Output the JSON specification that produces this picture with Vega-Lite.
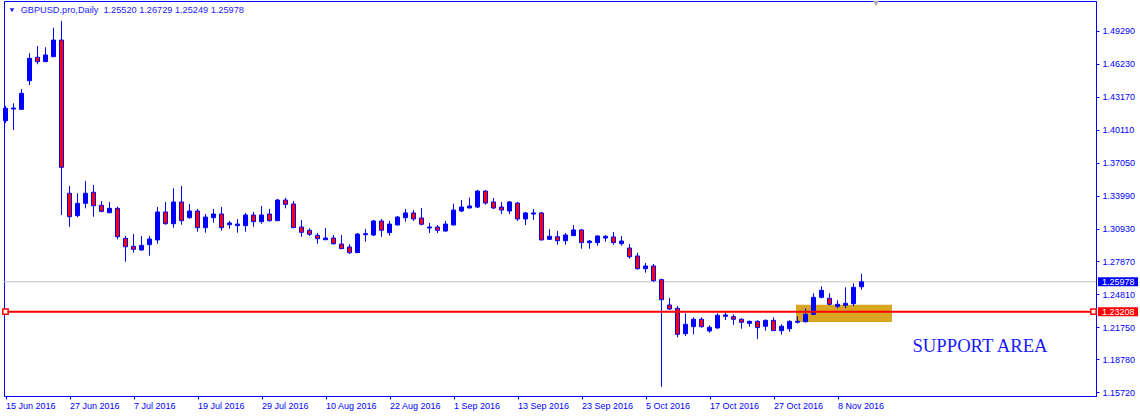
{
  "$schema": "https://vega.github.io/schema/vega-lite/v6.json",
  "autosize": "none",
  "width": 1092,
  "height": 395,
  "padding": {"left": 4, "top": 1, "right": 44, "bottom": 20},
  "background": "white",
  "datasets": {
    "ohlc": [
      {"date":"2016-06-15","o":1.4095,"h":1.4232,"l":1.4074,"c":1.4211},
      {"date":"2016-06-16","o":1.4204,"h":1.4257,"l":1.4009,"c":1.4213},
      {"date":"2016-06-17","o":1.4201,"h":1.4390,"l":1.4199,"c":1.4350},
      {"date":"2016-06-20","o":1.4467,"h":1.4722,"l":1.4427,"c":1.4675},
      {"date":"2016-06-21","o":1.4685,"h":1.4790,"l":1.4620,"c":1.4644},
      {"date":"2016-06-22","o":1.4644,"h":1.4778,"l":1.4642,"c":1.4706},
      {"date":"2016-06-23","o":1.4690,"h":1.4960,"l":1.4687,"c":1.4845},
      {"date":"2016-06-24","o":1.4845,"h":1.5022,"l":1.3219,"c":1.3662},
      {"date":"2016-06-27","o":1.3421,"h":1.3489,"l":1.3110,"c":1.3203},
      {"date":"2016-06-28","o":1.3213,"h":1.3421,"l":1.3198,"c":1.3328},
      {"date":"2016-06-29","o":1.3328,"h":1.3535,"l":1.3281,"c":1.3421},
      {"date":"2016-06-30","o":1.3430,"h":1.3498,"l":1.3203,"c":1.3305},
      {"date":"2016-07-01","o":1.3309,"h":1.3349,"l":1.3244,"c":1.3253},
      {"date":"2016-07-04","o":1.3240,"h":1.3340,"l":1.3240,"c":1.3281},
      {"date":"2016-07-05","o":1.3281,"h":1.3296,"l":1.2993,"c":1.3017},
      {"date":"2016-07-06","o":1.3002,"h":1.3024,"l":1.2785,"c":1.2924},
      {"date":"2016-07-07","o":1.2928,"h":1.3042,"l":1.2869,"c":1.2900},
      {"date":"2016-07-08","o":1.2894,"h":1.3024,"l":1.2887,"c":1.2937},
      {"date":"2016-07-11","o":1.2943,"h":1.3024,"l":1.2841,"c":1.2996},
      {"date":"2016-07-12","o":1.2987,"h":1.3293,"l":1.2952,"c":1.3247},
      {"date":"2016-07-13","o":1.3247,"h":1.3340,"l":1.3129,"c":1.3138},
      {"date":"2016-07-14","o":1.3138,"h":1.3467,"l":1.3101,"c":1.3340},
      {"date":"2016-07-15","o":1.3340,"h":1.3489,"l":1.3129,"c":1.3166},
      {"date":"2016-07-18","o":1.3194,"h":1.3321,"l":1.3185,"c":1.3256},
      {"date":"2016-07-19","o":1.3256,"h":1.3275,"l":1.3064,"c":1.3101},
      {"date":"2016-07-20","o":1.3101,"h":1.3228,"l":1.3055,"c":1.3200},
      {"date":"2016-07-21","o":1.3194,"h":1.3275,"l":1.3147,"c":1.3228},
      {"date":"2016-07-22","o":1.3228,"h":1.3293,"l":1.3073,"c":1.3101},
      {"date":"2016-07-25","o":1.3129,"h":1.3163,"l":1.3092,"c":1.3145},
      {"date":"2016-07-26","o":1.3120,"h":1.3182,"l":1.3055,"c":1.3135},
      {"date":"2016-07-27","o":1.3120,"h":1.3238,"l":1.3064,"c":1.3219},
      {"date":"2016-07-28","o":1.3219,"h":1.3247,"l":1.3110,"c":1.3157},
      {"date":"2016-07-29","o":1.3157,"h":1.3303,"l":1.3138,"c":1.3219},
      {"date":"2016-08-01","o":1.3228,"h":1.3275,"l":1.3157,"c":1.3166},
      {"date":"2016-08-02","o":1.3166,"h":1.3368,"l":1.3163,"c":1.3358},
      {"date":"2016-08-03","o":1.3358,"h":1.3380,"l":1.3281,"c":1.3318},
      {"date":"2016-08-04","o":1.3321,"h":1.3349,"l":1.3098,"c":1.3101},
      {"date":"2016-08-05","o":1.3107,"h":1.3173,"l":1.3017,"c":1.3058},
      {"date":"2016-08-08","o":1.3077,"h":1.3095,"l":1.3024,"c":1.3040},
      {"date":"2016-08-09","o":1.3030,"h":1.3052,"l":1.2952,"c":1.2999},
      {"date":"2016-08-10","o":1.2989,"h":1.3098,"l":1.2987,"c":1.3005},
      {"date":"2016-08-11","o":1.3005,"h":1.3033,"l":1.2943,"c":1.2952},
      {"date":"2016-08-12","o":1.2949,"h":1.3033,"l":1.2903,"c":1.2906},
      {"date":"2016-08-15","o":1.2922,"h":1.2949,"l":1.2857,"c":1.2869},
      {"date":"2016-08-16","o":1.2869,"h":1.3052,"l":1.2866,"c":1.3042},
      {"date":"2016-08-17","o":1.3036,"h":1.3089,"l":1.2971,"c":1.3045},
      {"date":"2016-08-18","o":1.3033,"h":1.3173,"l":1.3024,"c":1.3163},
      {"date":"2016-08-19","o":1.3163,"h":1.3182,"l":1.3017,"c":1.3077},
      {"date":"2016-08-22","o":1.3055,"h":1.3163,"l":1.3027,"c":1.3135},
      {"date":"2016-08-23","o":1.3126,"h":1.3210,"l":1.3123,"c":1.3200},
      {"date":"2016-08-24","o":1.3194,"h":1.3275,"l":1.3157,"c":1.3238},
      {"date":"2016-08-25","o":1.3238,"h":1.3265,"l":1.3163,"c":1.3182},
      {"date":"2016-08-26","o":1.3191,"h":1.3284,"l":1.3123,"c":1.3133},
      {"date":"2016-08-29","o":1.3098,"h":1.3145,"l":1.3052,"c":1.3107},
      {"date":"2016-08-30","o":1.3107,"h":1.3126,"l":1.3052,"c":1.3077},
      {"date":"2016-08-31","o":1.3070,"h":1.3163,"l":1.3064,"c":1.3135},
      {"date":"2016-09-01","o":1.3126,"h":1.3324,"l":1.3123,"c":1.3265},
      {"date":"2016-09-02","o":1.3256,"h":1.3358,"l":1.3247,"c":1.3293},
      {"date":"2016-09-05","o":1.3284,"h":1.3380,"l":1.3281,"c":1.3303},
      {"date":"2016-09-06","o":1.3293,"h":1.3451,"l":1.3284,"c":1.3442},
      {"date":"2016-09-07","o":1.3442,"h":1.3447,"l":1.3315,"c":1.3330},
      {"date":"2016-09-08","o":1.3340,"h":1.3377,"l":1.3275,"c":1.3284},
      {"date":"2016-09-09","o":1.3293,"h":1.3340,"l":1.3228,"c":1.3265},
      {"date":"2016-09-12","o":1.3256,"h":1.3349,"l":1.3228,"c":1.3340},
      {"date":"2016-09-13","o":1.3330,"h":1.3340,"l":1.3163,"c":1.3182},
      {"date":"2016-09-14","o":1.3182,"h":1.3247,"l":1.3126,"c":1.3238},
      {"date":"2016-09-15","o":1.3228,"h":1.3275,"l":1.3173,"c":1.3238},
      {"date":"2016-09-16","o":1.3238,"h":1.3247,"l":1.2984,"c":1.2987},
      {"date":"2016-09-19","o":1.2993,"h":1.3086,"l":1.2987,"c":1.3021},
      {"date":"2016-09-20","o":1.3017,"h":1.3070,"l":1.2943,"c":1.2980},
      {"date":"2016-09-21","o":1.2980,"h":1.3052,"l":1.2943,"c":1.3033},
      {"date":"2016-09-22","o":1.3027,"h":1.3126,"l":1.3024,"c":1.3080},
      {"date":"2016-09-23","o":1.3080,"h":1.3089,"l":1.2906,"c":1.2962},
      {"date":"2016-09-26","o":1.2962,"h":1.2987,"l":1.2906,"c":1.2977},
      {"date":"2016-09-27","o":1.2962,"h":1.3029,"l":1.2934,"c":1.3024},
      {"date":"2016-09-28","o":1.3005,"h":1.3033,"l":1.2971,"c":1.3021},
      {"date":"2016-09-29","o":1.3015,"h":1.3061,"l":1.2943,"c":1.2962},
      {"date":"2016-09-30","o":1.2952,"h":1.3024,"l":1.2934,"c":1.2977},
      {"date":"2016-10-03","o":1.2912,"h":1.2949,"l":1.2813,"c":1.2831},
      {"date":"2016-10-04","o":1.2838,"h":1.2866,"l":1.2711,"c":1.2720},
      {"date":"2016-10-05","o":1.2720,"h":1.2773,"l":1.2683,"c":1.2745},
      {"date":"2016-10-06","o":1.2745,"h":1.2764,"l":1.2599,"c":1.2608},
      {"date":"2016-10-07","o":1.2618,"h":1.2627,"l":1.1623,"c":1.2432},
      {"date":"2016-10-10","o":1.2383,"h":1.2448,"l":1.2336,"c":1.2345},
      {"date":"2016-10-11","o":1.2352,"h":1.2373,"l":1.2082,"c":1.2110},
      {"date":"2016-10-12","o":1.2116,"h":1.2305,"l":1.2094,"c":1.2203},
      {"date":"2016-10-13","o":1.2181,"h":1.2268,"l":1.2110,"c":1.2250},
      {"date":"2016-10-14","o":1.2250,"h":1.2268,"l":1.2172,"c":1.2181},
      {"date":"2016-10-17","o":1.2141,"h":1.2194,"l":1.2125,"c":1.2175},
      {"date":"2016-10-18","o":1.2169,"h":1.2305,"l":1.2162,"c":1.2287},
      {"date":"2016-10-19","o":1.2278,"h":1.2315,"l":1.2243,"c":1.2290},
      {"date":"2016-10-20","o":1.2274,"h":1.2296,"l":1.2199,"c":1.2250},
      {"date":"2016-10-21","o":1.2250,"h":1.2259,"l":1.2162,"c":1.2222},
      {"date":"2016-10-24","o":1.2212,"h":1.2237,"l":1.2181,"c":1.2231},
      {"date":"2016-10-25","o":1.2231,"h":1.2240,"l":1.2067,"c":1.2172},
      {"date":"2016-10-26","o":1.2185,"h":1.2248,"l":1.2144,"c":1.2240},
      {"date":"2016-10-27","o":1.2240,"h":1.2268,"l":1.2141,"c":1.2144},
      {"date":"2016-10-28","o":1.2144,"h":1.2203,"l":1.2107,"c":1.2185},
      {"date":"2016-10-31","o":1.2162,"h":1.2240,"l":1.2134,"c":1.2231},
      {"date":"2016-11-01","o":1.2222,"h":1.2278,"l":1.2212,"c":1.2231},
      {"date":"2016-11-02","o":1.2227,"h":1.2352,"l":1.2222,"c":1.2296},
      {"date":"2016-11-03","o":1.2296,"h":1.2491,"l":1.2292,"c":1.2454},
      {"date":"2016-11-04","o":1.2454,"h":1.2556,"l":1.2445,"c":1.2519},
      {"date":"2016-11-07","o":1.2445,"h":1.2491,"l":1.2380,"c":1.2389},
      {"date":"2016-11-08","o":1.2370,"h":1.2426,"l":1.2352,"c":1.2389},
      {"date":"2016-11-09","o":1.2380,"h":1.2547,"l":1.2352,"c":1.2398},
      {"date":"2016-11-10","o":1.2395,"h":1.2584,"l":1.2371,"c":1.2547},
      {"date":"2016-11-11","o":1.2552,"h":1.26729,"l":1.25249,"c":1.25978}
    ]
  },
  "layer": [
    {
      "data": {"values": [{}]},
      "mark": {"type": "rect", "color": "#daa520", "xOffset": -1.5, "x2Offset": -1.5},
      "encoding": {
        "x": {"datum": "2016-11-01", "type": "ordinal"},
        "x2": {"datum": "2016-11-17"},
        "y": {"datum": 1.2385, "type": "quantitative"},
        "y2": {"datum": 1.2225}
      }
    },
    {
      "data": {"values": [{}]},
      "mark": {"type": "rule", "color": "#c0c0c0", "strokeWidth": 1},
      "encoding": {"y": {"datum": 1.25978, "type": "quantitative"}}
    },
    {
      "data": {"name": "ohlc"},
      "mark": {"type": "rule", "color": "#0000ff", "strokeWidth": 1},
      "encoding": {
        "x": {
          "field": "date", "type": "ordinal",
          "scale": {
            "type": "point", "padding": 0.25, "align": 0.375,
            "domain": ["2016-06-15","2016-06-16","2016-06-17","2016-06-20","2016-06-21","2016-06-22","2016-06-23","2016-06-24","2016-06-27","2016-06-28","2016-06-29","2016-06-30","2016-07-01","2016-07-04","2016-07-05","2016-07-06","2016-07-07","2016-07-08","2016-07-11","2016-07-12","2016-07-13","2016-07-14","2016-07-15","2016-07-18","2016-07-19","2016-07-20","2016-07-21","2016-07-22","2016-07-25","2016-07-26","2016-07-27","2016-07-28","2016-07-29","2016-08-01","2016-08-02","2016-08-03","2016-08-04","2016-08-05","2016-08-08","2016-08-09","2016-08-10","2016-08-11","2016-08-12","2016-08-15","2016-08-16","2016-08-17","2016-08-18","2016-08-19","2016-08-22","2016-08-23","2016-08-24","2016-08-25","2016-08-26","2016-08-29","2016-08-30","2016-08-31","2016-09-01","2016-09-02","2016-09-05","2016-09-06","2016-09-07","2016-09-08","2016-09-09","2016-09-12","2016-09-13","2016-09-14","2016-09-15","2016-09-16","2016-09-19","2016-09-20","2016-09-21","2016-09-22","2016-09-23","2016-09-26","2016-09-27","2016-09-28","2016-09-29","2016-09-30","2016-10-03","2016-10-04","2016-10-05","2016-10-06","2016-10-07","2016-10-10","2016-10-11","2016-10-12","2016-10-13","2016-10-14","2016-10-17","2016-10-18","2016-10-19","2016-10-20","2016-10-21","2016-10-24","2016-10-25","2016-10-26","2016-10-27","2016-10-28","2016-10-31","2016-11-01","2016-11-02","2016-11-03","2016-11-04","2016-11-07","2016-11-08","2016-11-09","2016-11-10","2016-11-11","2016-11-14","2016-11-15","2016-11-16","2016-11-17","2016-11-18","2016-11-21","2016-11-22","2016-11-23","2016-11-24","2016-11-25","2016-11-28","2016-11-29","2016-11-30","2016-12-01","2016-12-02","2016-12-05","2016-12-06","2016-12-07","2016-12-08","2016-12-09","2016-12-12","2016-12-13","2016-12-14","2016-12-15","2016-12-16","2016-12-19","2016-12-20","2016-12-21","2016-12-22"]
          },
          "axis": {
            "orient": "bottom", "title": null,
            "values": ["2016-06-15","2016-06-27","2016-07-07","2016-07-19","2016-07-29","2016-08-10","2016-08-22","2016-09-01","2016-09-13","2016-09-23","2016-10-05","2016-10-17","2016-10-27","2016-11-08"],
            "labelExpr": "utcFormat(toDate(datum.value), '%-d %b %Y')",
            "labelAlign": "left", "labelBaseline": "top", "labelPadding": 2, "labelAngle": 0, "labelOverlap": false
          }
        },
        "y": {
          "field": "l", "type": "quantitative",
          "scale": {"domain": [1.15368, 1.52078], "zero": false, "nice": false},
          "axis": {
            "orient": "right", "title": null, "tickCount": 30,
            "values": [1.1572, 1.1878, 1.2175, 1.2481, 1.2787, 1.3093, 1.3399, 1.3705, 1.4011, 1.4317, 1.4623, 1.4929],
            "format": ".5f", "labelPadding": 3, "labelBaseline": "middle", "labelOverlap": false, "labelFlush": false, "labelSeparation": 0, "labelBound": false
          }
        },
        "y2": {"field": "h"}
      }
    },
    {
      "data": {"name": "ohlc"},
      "mark": {"type": "bar", "width": 4, "stroke": "#0000ff", "strokeWidth": 1},
      "encoding": {
        "x": {"field": "date", "type": "ordinal"},
        "y": {"field": "o", "type": "quantitative"},
        "y2": {"field": "c"},
        "fill": {"condition": {"test": "datum.c >= datum.o", "value": "#0000ff"}, "value": "#ff0000"}
      }
    },
    {
      "data": {"values": [{}]},
      "mark": {"type": "rule", "color": "#ff0000", "strokeWidth": 2},
      "encoding": {"y": {"datum": 1.23208, "type": "quantitative"}}
    },
    {
      "data": {"values": [{"date": "2016-06-15"}, {"date": "2016-12-22"}]},
      "mark": {"type": "point", "shape": "square", "size": 28, "filled": true, "fill": "white", "stroke": "#ff0000", "strokeWidth": 1.5, "opacity": 1},
      "encoding": {
        "x": {"field": "date", "type": "ordinal"},
        "y": {"datum": 1.23208, "type": "quantitative"}
      }
    },
    {
      "data": {"values": [{"price": 1.25978, "col": "#0000ff"}, {"price": 1.23208, "col": "#ff0000"}]},
      "mark": {"type": "rect", "xOffset": 4.5, "x2Offset": 44.5, "yOffset": -4.5, "y2Offset": 4.5},
      "encoding": {
        "x": {"datum": "2016-12-22", "type": "ordinal"},
        "x2": {"datum": "2016-12-22"},
        "y": {"field": "price", "type": "quantitative"},
        "y2": {"field": "price"},
        "color": {"field": "col", "type": "nominal", "scale": null}
      }
    },
    {
      "data": {"values": [{"price": 1.25978}, {"price": 1.23208}]},
      "mark": {"type": "text", "align": "left", "baseline": "middle", "dx": 8.5, "font": "Liberation Sans", "fontSize": 9, "color": "white"},
      "encoding": {
        "x": {"datum": "2016-12-22", "type": "ordinal"},
        "y": {"field": "price", "type": "quantitative"},
        "text": {"field": "price", "type": "quantitative", "format": ".5f"}
      }
    },
    {
      "data": {"values": [{"label": "GBPUSD.pro,Daily\u00a0 1.25520 1.26729 1.25249 1.25978"}]},
      "mark": {"type": "text", "align": "left", "baseline": "alphabetic", "dx": 15.2, "font": "Liberation Sans", "fontSize": 9.2, "color": "#2020ff"},
      "encoding": {
        "x": {"datum": "2016-06-15", "type": "ordinal"},
        "y": {"datum": 1.5099, "type": "quantitative"},
        "text": {"field": "label"}
      }
    },
    {
      "data": {"values": [{}]},
      "mark": {"type": "text", "font": "Liberation Serif", "fontSize": 18.7, "color": "#1a1aff", "align": "center", "baseline": "alphabetic", "dx": -1.5},
      "encoding": {
        "x": {"datum": "2016-12-02", "type": "ordinal"},
        "y": {"datum": 1.1949, "type": "quantitative"},
        "text": {"value": "SUPPORT AREA"}
      }
    },
    {
      "data": {"values": [{}]},
      "mark": {"type": "point", "shape": "triangle-down", "filled": true, "size": 22, "color": "#2020ff", "opacity": 1, "xOffset": -1.5},
      "encoding": {
        "x": {"datum": "2016-06-16", "type": "ordinal"},
        "y": {"datum": 1.5121, "type": "quantitative"}
      }
    },
    {
      "data": {"values": [{}]},
      "mark": {"type": "point", "shape": "triangle-down", "filled": true, "size": 40, "color": "#b0b0b0", "opacity": 1, "xOffset": -1.5},
      "encoding": {
        "x": {"datum": "2016-11-15", "type": "ordinal"},
        "y": {"datum": 1.5184, "type": "quantitative"}
      }
    }
  ],
  "config": {
    "view": {"stroke": "#0000ff", "strokeWidth": 1},
    "axis": {"domainColor": "#0000ff", "tickColor": "#0000ff", "labelColor": "#0000ff", "labelFont": "Liberation Sans", "labelFontSize": 9, "grid": false, "tickSize": 3, "domainWidth": 1, "tickWidth": 1, "labelOverlap": false, "labelSeparation": 0}
  }
}
